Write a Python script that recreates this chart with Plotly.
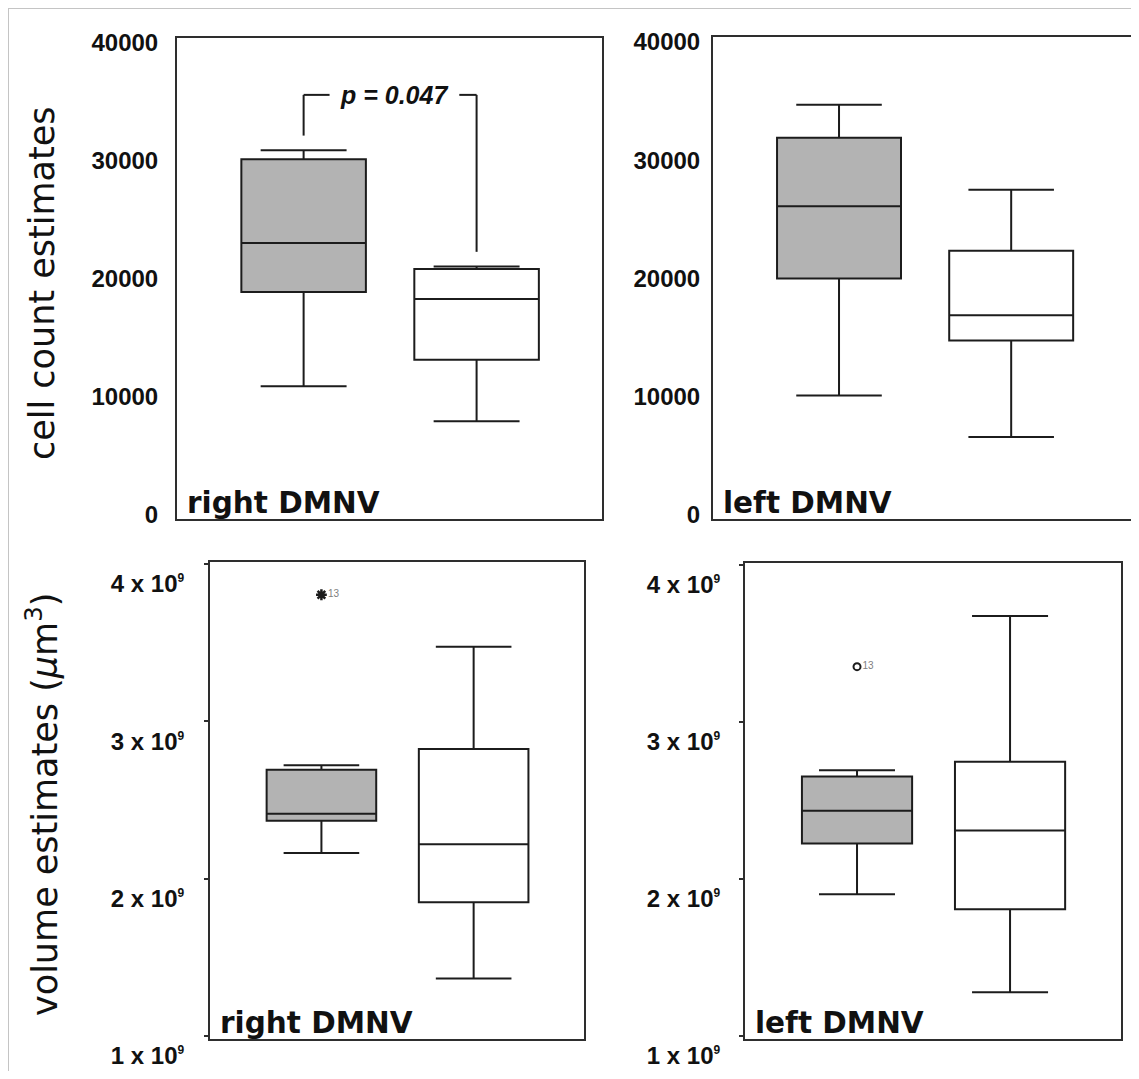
import plotly.graph_objects as go

# ---------------- data ----------------
# each box: [lower whisker, Q1, median, Q3, upper whisker]
group_pos = [0, 1]                      # grey group, white group
cell_right_grey = [10900, 18900, 23050, 30150, 30900]
cell_right_white = [7950, 13150, 18300, 20850, 21050]
cell_left_grey = [10100, 20000, 26100, 31900, 34700]
cell_left_white = [6600, 14750, 16900, 22350, 27500]
vol_right_grey = [2.163e9, 2.368e9, 2.412e9, 2.692e9, 2.720e9]
vol_right_white = [1.366e9, 1.850e9, 2.218e9, 2.824e9, 3.474e9]
vol_left_grey = [1.903e9, 2.226e9, 2.435e9, 2.653e9, 2.692e9]
vol_left_white = [1.279e9, 1.807e9, 2.308e9, 2.747e9, 3.675e9]
vol_right_outlier = [3.804e9]   # case 13 (extreme)
vol_left_outlier = [3.352e9]    # case 13 (outlier)
outlier_case = ["13"]
p_text = "p = 0.047"
p_bracket = [32150, 35600, 22300]  # left start, bar level, right end

cell_ticks = [0, 10000, 20000, 30000, 40000]
cell_ticktext = ["0", "10000", "20000", "30000", "40000"]
vol_ticks = [1e9, 2e9, 3e9, 4e9]
SUP9 = "<sup><span style='font-size:12px'>9</span></sup>"
vol_ticktext = ["1 x 10" + SUP9, "2 x 10" + SUP9, "3 x 10" + SUP9, "4 x 10" + SUP9]

# ---------------- layout helpers ----------------
W, H = 1123, 1063
OFF = 8  # page body margin


def xd(a, b):
    return [max(0, (a - OFF) / W), min(1, (b - OFF) / W)]


def yd(top, bottom):
    return [1 - (bottom - OFF) / H, 1 - (top - OFF) / H]


GREY = "#b3b3b3"
INK = "#1c1c1c"
FRAME = "#2e2e2e"
TICKFONT = dict(family="Liberation Sans, Arial, sans-serif", size=24, color="#111111", weight="bold")
LABFONT = dict(family="DejaVu Sans, sans-serif", size=29.5, color="#111111", weight="bold")

fig = go.Figure()

panels = [
    # (xaxis, yaxis, grey, white, domain x, domain y)
    ("x", "y", cell_right_grey, cell_right_white, xd(177, 602), yd(38, 519)),
    ("x2", "y2", cell_left_grey, cell_left_white, xd(713, 1136), yd(37, 519)),
    ("x3", "y3", vol_right_grey, vol_right_white, xd(210, 584), yd(562, 1039)),
    ("x4", "y4", vol_left_grey, vol_left_white, xd(745, 1121), yd(563, 1039)),
]

for xa, ya, g, w, dx, dy in panels:
    for pos, vals, fill in [(group_pos[0], g, GREY), (group_pos[1], w, "white")]:
        fig.add_trace(go.Box(
            x=[pos], lowerfence=[vals[0]], q1=[vals[1]], median=[vals[2]],
            q3=[vals[3]], upperfence=[vals[4]],
            width=0.72, whiskerwidth=0.69, fillcolor=fill,
            line=dict(color=INK, width=2), boxpoints=False,
            showlegend=False, xaxis=xa, yaxis=ya, hoverinfo="y",
        ))

# outliers
fig.add_trace(go.Scatter(
    x=[group_pos[0]], y=vol_right_outlier, mode="markers+text", text=outlier_case,
    textposition="middle right", textfont=dict(size=10, color="#808080", family="Liberation Sans"),
    marker=dict(symbol="asterisk-open", size=9, color=INK, line=dict(color=INK, width=2.5)),
    showlegend=False, xaxis="x3", yaxis="y3"))
fig.add_trace(go.Scatter(
    x=[group_pos[0]], y=vol_left_outlier, mode="markers+text", text=outlier_case,
    textposition="middle right", textfont=dict(size=10, color="#808080", family="Liberation Sans"),
    marker=dict(symbol="circle-open", size=7, color=INK, line=dict(color=INK, width=2)),
    showlegend=False, xaxis="x4", yaxis="y4"))

layout = dict(
    width=W, height=H, margin=dict(l=0, r=0, t=0, b=0, autoexpand=False),
    paper_bgcolor="white", plot_bgcolor="white", showlegend=False,
)

XR = [-0.732, 1.725]
axcommon = dict(showline=True, mirror=True, linewidth=2, linecolor=FRAME,
                showgrid=False, zeroline=False, automargin=False)

for i, (xa, ya, g, w, dx, dy) in enumerate(panels):
    sfx = "" if i == 0 else str(i + 1)
    xr = list(XR)
    if i == 1:
        # right frame is clipped by the page edge
        full = (1136 - 713)
        xr[1] = XR[1] - (1136 - (OFF + W)) / full * (XR[1] - XR[0])
    layout["xaxis" + sfx] = dict(domain=dx, range=xr, showticklabels=False, ticks="",
                                 anchor="y" + sfx, **axcommon)
    if i < 2:
        layout["yaxis" + sfx] = dict(
            domain=dy, range=[-340, 40420], tickvals=cell_ticks, ticktext=cell_ticktext,
            ticks="", tickfont=TICKFONT, anchor="x" + sfx,
            ticklabelstandoff=[12, 6][i], **axcommon)
    else:
        layout["yaxis" + sfx] = dict(
            domain=dy, range=[0.981e9, 4.012e9], tickvals=vol_ticks, ticktext=vol_ticktext,
            ticks="outside", ticklen=4, tickwidth=2, tickcolor=FRAME,
            tickfont=TICKFONT, anchor="x" + sfx, ticklabelshift=20,
            ticklabelstandoff=[15, 14][i - 2], **axcommon)

fig.update_layout(**layout)

# panel labels
for xa, ya, txt in [("x", "y", "right DMNV"), ("x2", "y2", "left DMNV"),
                    ("x3", "y3", "right DMNV"), ("x4", "y4", "left DMNV")]:
    fig.add_annotation(text=txt, xref=xa + " domain", yref=ya + " domain", x=0, y=0,
                       xanchor="left", yanchor="bottom", xshift=8, yshift=-3,
                       showarrow=False, font=LABFONT)

# y titles
TITLEFONT = dict(family="DejaVu Sans, sans-serif", size=35, color="#111111")
fig.add_annotation(text="cell count estimates", xref="paper", yref="paper",
                   x=(42 - OFF) / W, y=1 - (284 - OFF) / H, textangle=-90,
                   xanchor="center", yanchor="middle", showarrow=False, font=TITLEFONT)
fig.add_annotation(text="volume estimates (<i>\u03bc</i>m<sup>3</sup>)", xref="paper", yref="paper",
                   x=(42 - OFF) / W, y=1 - (805 - OFF) / H, textangle=-90,
                   xanchor="center", yanchor="middle", showarrow=False, font=TITLEFONT)

# p-value bracket
lw = dict(color=INK, width=2)
fig.add_shape(type="line", xref="x", yref="y", x0=group_pos[0], x1=group_pos[0],
              y0=p_bracket[0], y1=p_bracket[1], line=lw)
fig.add_shape(type="line", xref="x", yref="y", x0=group_pos[0], x1=0.15,
              y0=p_bracket[1], y1=p_bracket[1], line=lw)
fig.add_shape(type="line", xref="x", yref="y", x0=0.90, x1=group_pos[1],
              y0=p_bracket[1], y1=p_bracket[1], line=lw)
fig.add_shape(type="line", xref="x", yref="y", x0=group_pos[1], x1=group_pos[1],
              y0=p_bracket[1], y1=p_bracket[2], line=lw)
fig.add_annotation(text="<b><i>" + p_text + "</i></b>", xref="x", yref="y", x=0.52, y=p_bracket[1],
                   xanchor="center", yanchor="middle", showarrow=False,
                   font=dict(family="Liberation Sans, Arial, sans-serif", size=25, color="#111111"))

# light grey page border (top and left)
fig.add_shape(type="line", xref="paper", yref="paper", x0=0, x1=1, y0=1, y1=1,
              line=dict(color="#c4c4c4", width=2))
fig.add_shape(type="line", xref="paper", yref="paper", x0=0, x1=0, y0=0, y1=1,
              line=dict(color="#c4c4c4", width=2))

fig.write_html("out.html")
